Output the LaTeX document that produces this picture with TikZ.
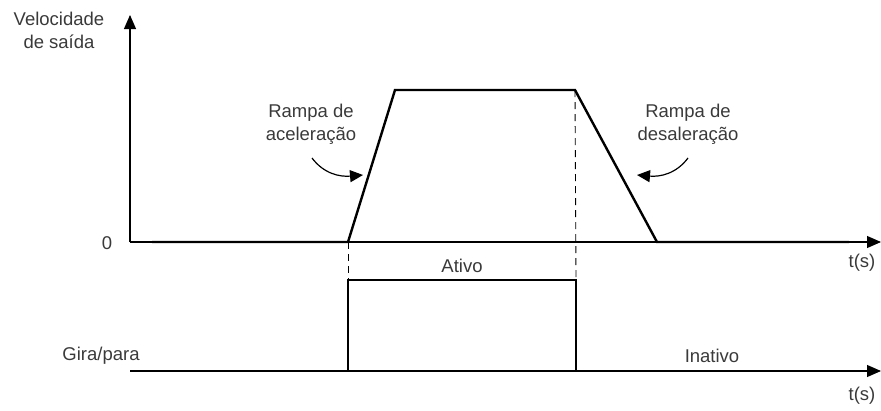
\documentclass[tikz,border=0pt]{standalone}
\usepackage{fontspec}
\setmainfont{Liberation Sans}
\usetikzlibrary{positioning,arrows.meta}
\definecolor{txtgray}{HTML}{3A3A3A}

\begin{document}
\begin{tikzpicture}[
    x=1pt,y=-1pt,
    every node/.style={font=\fontsize{18.5}{23}\selectfont,text=txtgray,inner sep=0pt},
    axis/.style={line width=1.1pt,-{Triangle[length=14pt,width=12pt]}},
    signal/.style={line width=2.4pt,line join=miter},
    guide/.style={line width=0.9pt,dash pattern=on 7pt off 5pt},
    pointer/.style={line width=1.2pt,-{Triangle[length=13pt,width=12pt]}}
]
\useasboundingbox (0,0) rectangle (881,410);
% axes
\coordinate (o1) at (130,242);
\coordinate (top) at (130,15);
\coordinate (end1) at (881,242);
\coordinate (o2) at (130,371);
\coordinate (end2) at (881,371);
\draw[axis] (o1) -- (top);
\draw[axis] (o1) -- (end1);
\draw[axis] (o2) -- (end2);
% velocity profile
\coordinate (v0) at (152,242);
\coordinate (v1) at (348,242);
\coordinate (v2) at (395,90);
\coordinate (v3) at (575,90);
\coordinate (v4) at (657,242);
\coordinate (v5) at (849,242);
\draw[signal] (v0) -- (v1) -- (v2) -- (v3) -- (v4) -- (v5);
% run/stop signal
\coordinate (g0) at (152,371);
\coordinate (g1) at (348,371);
\coordinate (g2) at (348,280);
\coordinate (g3) at (576,280);
\coordinate (g4) at (576,371);
\coordinate (g5) at (849,371);
\draw[signal] (g0) -- (g1) -- (g2) -- (g3) -- (g4) -- (g5);
% guides
\draw[guide] (v1) -- (g2);
\draw[guide] (v3) -- (g3);
% labels
\node[align=center] (vel) at (59,30) {Velocidade\\de saída};
\node (zero) at (107,243) {0};
\node (t1) at (862,263) {t(s)};
\node (t2) at (862,396) {t(s)};
\node (gira) at (101,356) {Gira/para};
\node (ativo) at (462,266) {Ativo};
\node (inativo) at (712,356) {Inativo};
\node[align=center] (acel) at (311,124) {Rampa de\\aceleração};
\node[align=center] (desac) at (688,124) {Rampa de\\desaleração};
% pointers
\coordinate (pa) at (312,158);
\coordinate (pb) at (363,175);
\coordinate (pc) at (688,158);
\coordinate (pd) at (637,175);
\draw[pointer] (pa) .. controls (324,174) and (340,177) .. (pb);
\draw[pointer] (pc) .. controls (676,174) and (660,177) .. (pd);
\end{tikzpicture}
\end{document}
